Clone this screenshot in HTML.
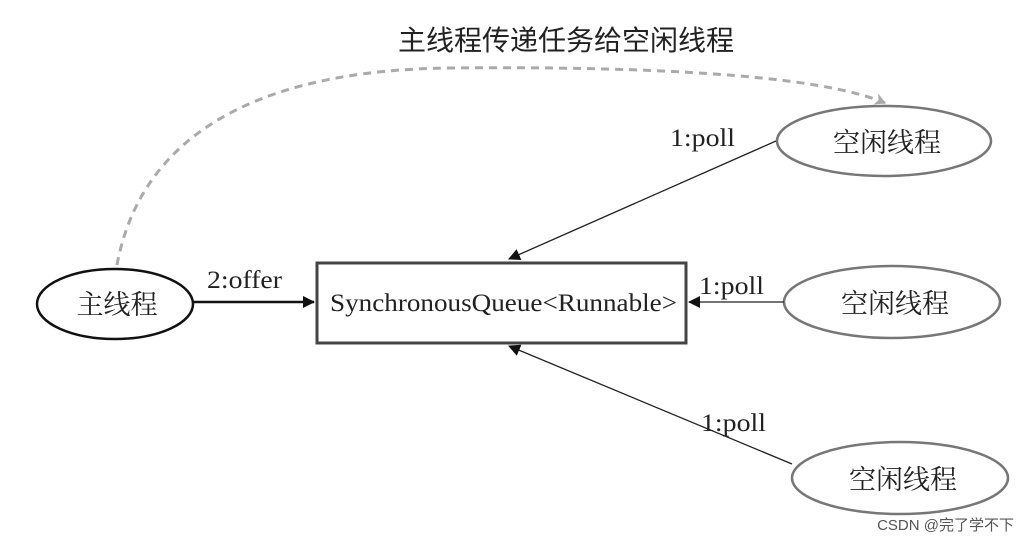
<!DOCTYPE html>
<html><head><meta charset="utf-8"><style>
body{margin:0;background:#fff;}
svg text{font-family:"Liberation Serif","Noto Serif CJK SC",serif;fill:#222;}
</style></head><body>
<svg width="1029" height="542" viewBox="0 0 1029 542" xmlns="http://www.w3.org/2000/svg">
<defs>
<marker id="a" markerWidth="12" markerHeight="12" refX="11" refY="6" orient="auto" markerUnits="userSpaceOnUse"><path d="M0,0 L12,6 L0,12 z" fill="#111"/></marker>
<marker id="g" markerWidth="12" markerHeight="12" refX="10" refY="6" orient="auto" markerUnits="userSpaceOnUse"><path d="M0,0 L11,6 L0,12 L3,6 z" fill="#aaa"/></marker>
</defs>
<text x="566" y="50" font-size="28" text-anchor="middle" style="font-family:'Noto Sans CJK SC',sans-serif">主线程传递任务给空闲线程</text>
<path d="M117,265 C140,140 250,70 450,68 C650,66 820,75 885,103" fill="none" stroke="#aaa" stroke-width="3" stroke-dasharray="8,6" marker-end="url(#g)"/>
<ellipse cx="115" cy="304" rx="78" ry="35" fill="none" stroke="#111" stroke-width="2.5"/>
<text x="117" y="314" font-size="27" text-anchor="middle">主线程</text>
<rect x="317" y="263" width="369" height="80" fill="none" stroke="#444" stroke-width="3"/>
<text x="330" y="311" font-size="25" textLength="347" lengthAdjust="spacingAndGlyphs">SynchronousQueue&lt;Runnable&gt;</text>
<line x1="194" y1="302" x2="314" y2="302" stroke="#111" stroke-width="2.5" marker-end="url(#a)"/>
<text x="207" y="288" font-size="25" textLength="75" lengthAdjust="spacingAndGlyphs">2:offer</text>
<ellipse cx="884" cy="141" rx="107" ry="35" fill="none" stroke="#777" stroke-width="2.5"/>
<text x="887" y="152" font-size="27" text-anchor="middle">空闲线程</text>
<ellipse cx="892" cy="302" rx="108" ry="36" fill="none" stroke="#777" stroke-width="2.5"/>
<text x="895" y="313" font-size="27" text-anchor="middle">空闲线程</text>
<ellipse cx="900" cy="478" rx="108" ry="36" fill="none" stroke="#777" stroke-width="2.5"/>
<text x="903" y="489" font-size="27" text-anchor="middle">空闲线程</text>
<line x1="776" y1="141" x2="509" y2="259" stroke="#222" stroke-width="1.3" marker-end="url(#a)"/>
<text x="670" y="146" font-size="25" textLength="65" lengthAdjust="spacingAndGlyphs">1:poll</text>
<line x1="784" y1="302" x2="689" y2="302" stroke="#222" stroke-width="1.3" marker-end="url(#a)"/>
<text x="699" y="294" font-size="25" textLength="65" lengthAdjust="spacingAndGlyphs">1:poll</text>
<line x1="792" y1="464" x2="509" y2="346" stroke="#222" stroke-width="1.3" marker-end="url(#a)"/>
<text x="701" y="431" font-size="25" textLength="65" lengthAdjust="spacingAndGlyphs">1:poll</text>
<text x="1014" y="530" font-size="15" text-anchor="end" style="font-family:'Liberation Sans','Noto Sans CJK SC',sans-serif;fill:#555">CSDN @完了学不下</text>
</svg>
</body></html>
